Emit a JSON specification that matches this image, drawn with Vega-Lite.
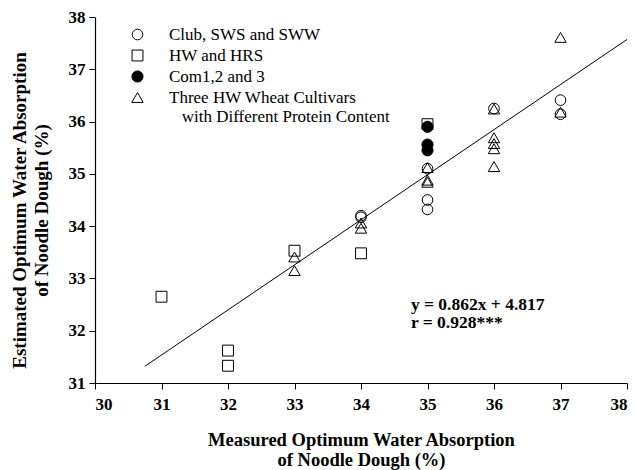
{
  "$schema": "https://vega.github.io/schema/vega-lite/v6.json",
  "width": 532,
  "height": 366,
  "autosize": "none",
  "padding": {"left": 95, "top": 17, "right": 9, "bottom": 87},
  "background": "white",
  "config": {
    "view": {"stroke": null},
    "font": "Liberation Serif",
    "axis": {
      "labelFont": "Liberation Serif",
      "labelFontSize": 17,
      "labelFontWeight": "bold",
      "labelColor": "black",
      "titleFont": "Liberation Serif",
      "titleFontWeight": "bold",
      "titleColor": "black",
      "domainColor": "black",
      "tickColor": "black",
      "grid": false,
      "tickSize": 6,
      "domainWidth": 1.2,
      "tickWidth": 1,
      "format": "d"
    }
  },
  "layer": [
    {
      "data": {"values": [{"mx": 30.75, "ey": 31.32}, {"mx": 38, "ey": 37.57}]},
      "mark": {"type": "line", "color": "black", "strokeWidth": 1, "clip": true},
      "encoding": {
        "x": {"field": "mx", "type": "quantitative"},
        "y": {"field": "ey", "type": "quantitative"}
      }
    },
    {
      "data": {
        "values": [
          {"group": "Club, SWS and SWW", "mx": 34, "ey": 34.2},
          {"group": "Club, SWS and SWW", "mx": 34, "ey": 34.17},
          {"group": "Club, SWS and SWW", "mx": 35, "ey": 35.1},
          {"group": "Club, SWS and SWW", "mx": 35, "ey": 34.5},
          {"group": "Club, SWS and SWW", "mx": 35, "ey": 34.32},
          {"group": "Club, SWS and SWW", "mx": 36, "ey": 36.25},
          {"group": "Club, SWS and SWW", "mx": 37, "ey": 36.41},
          {"group": "Club, SWS and SWW", "mx": 37, "ey": 36.14},
          {"group": "HW and HRS", "mx": 31, "ey": 32.65},
          {"group": "HW and HRS", "mx": 32, "ey": 31.62},
          {"group": "HW and HRS", "mx": 32, "ey": 31.33},
          {"group": "HW and HRS", "mx": 33, "ey": 33.53},
          {"group": "HW and HRS", "mx": 34, "ey": 33.48},
          {"group": "HW and HRS", "mx": 35, "ey": 35.95},
          {"group": "Com1,2 and 3", "mx": 35, "ey": 35.9},
          {"group": "Com1,2 and 3", "mx": 35, "ey": 35.56},
          {"group": "Com1,2 and 3", "mx": 35, "ey": 35.45},
          {"group": "Three HW Wheat Cultivars", "mx": 33, "ey": 33.41},
          {"group": "Three HW Wheat Cultivars", "mx": 33, "ey": 33.15},
          {"group": "Three HW Wheat Cultivars", "mx": 34, "ey": 34.06},
          {"group": "Three HW Wheat Cultivars", "mx": 34, "ey": 33.96},
          {"group": "Three HW Wheat Cultivars", "mx": 35, "ey": 35.12},
          {"group": "Three HW Wheat Cultivars", "mx": 35, "ey": 34.88},
          {"group": "Three HW Wheat Cultivars", "mx": 35, "ey": 34.84},
          {"group": "Three HW Wheat Cultivars", "mx": 36, "ey": 36.24},
          {"group": "Three HW Wheat Cultivars", "mx": 36, "ey": 35.69},
          {"group": "Three HW Wheat Cultivars", "mx": 36, "ey": 35.58},
          {"group": "Three HW Wheat Cultivars", "mx": 36, "ey": 35.48},
          {"group": "Three HW Wheat Cultivars", "mx": 36, "ey": 35.14},
          {"group": "Three HW Wheat Cultivars", "mx": 37, "ey": 37.61},
          {"group": "Three HW Wheat Cultivars", "mx": 37, "ey": 36.18}
        ]
      },
      "mark": {"type": "point", "strokeWidth": 1, "opacity": 1, "stroke": "black"},
      "encoding": {
        "x": {
          "field": "mx", "type": "quantitative",
          "scale": {"domain": [30, 38], "nice": false, "zero": false},
          "axis": {"values": [30, 31, 32, 33, 34, 35, 36, 37, 38], "labelPadding": 7,
                   "title": ["Measured Optimum Water Absorption", "of Noodle Dough (%)"],
                   "titleFontSize": 18.5,
                   "titlePadding": 18, "titleLineHeight": 20}
        },
        "y": {
          "field": "ey", "type": "quantitative",
          "scale": {"domain": [31, 38], "nice": false, "zero": false},
          "axis": {"values": [31, 32, 33, 34, 35, 36, 37, 38], "labelPadding": 4,
                   "title": ["Estimated Optimum Water Absorption", "of Noodle Dough (%)"],
                   "titleFontSize": 19,
                   "titleY": 193,
                   "titlePadding": 17, "titleLineHeight": 22}
        },
        "shape": {
          "field": "group", "type": "nominal",
          "scale": {
            "domain": ["Club, SWS and SWW", "HW and HRS", "Com1,2 and 3", "Three HW Wheat Cultivars"],
            "range": ["circle", "square", "circle", "triangle-up"]
          },
          "legend": {
            "title": null,
            "orient": "none",
            "legendX": 34,
            "legendY": 9,
            "padding": 0,
            "labelFont": "Liberation Serif",
            "labelFontSize": 17,
            "labelColor": "black",
            "labelOffset": 23,
            "labelLimit": 0,
            "rowPadding": 3,
            "symbolStrokeColor": "black",
            "symbolStrokeWidth": 1,
            "labelExpr": "datum.label == 'Three HW Wheat Cultivars' ? ['Three HW Wheat Cultivars', '\u200b\u00a0\u00a0\u00a0with Different Protein Content'] : datum.label"
          }
        },
        "fill": {
          "field": "group", "type": "nominal",
          "scale": {
            "domain": ["Club, SWS and SWW", "HW and HRS", "Com1,2 and 3", "Three HW Wheat Cultivars"],
            "range": ["transparent", "transparent", "black", "transparent"]
          }
        },
        "size": {
          "field": "group", "type": "nominal",
          "scale": {
            "domain": ["Club, SWS and SWW", "HW and HRS", "Com1,2 and 3", "Three HW Wheat Cultivars"],
            "range": [113, 130, 113, 225]
          }
        }
      }
    },
    {
      "data": {
        "values": [
          {"mx": 34.75, "ey": 32.49, "label": "y = 0.862x + 4.817"},
          {"mx": 34.75, "ey": 32.14, "label": "r = 0.928***"}
        ]
      },
      "mark": {"type": "text", "align": "left", "baseline": "middle", "font": "Liberation Serif", "fontSize": 17.5, "fontWeight": "bold", "color": "black"},
      "encoding": {
        "x": {"field": "mx", "type": "quantitative"},
        "y": {"field": "ey", "type": "quantitative"},
        "text": {"field": "label"}
      }
    }
  ]
}
